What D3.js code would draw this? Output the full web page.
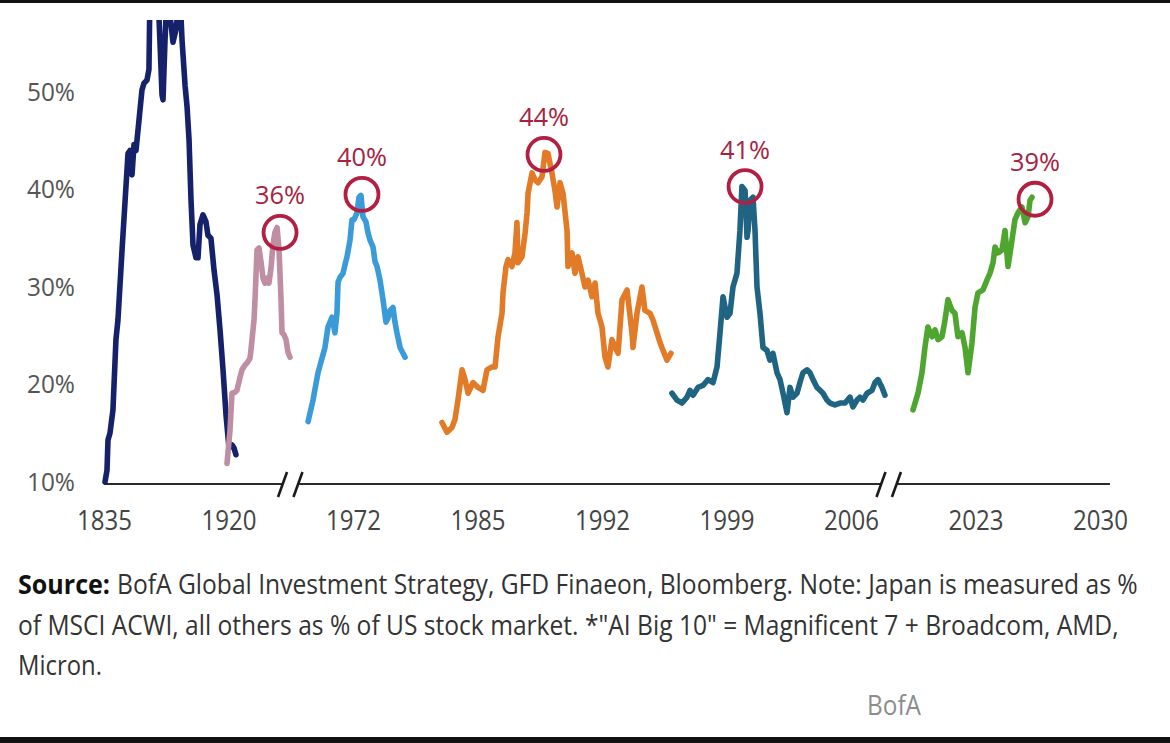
<!DOCTYPE html>
<html>
<head>
<meta charset="utf-8">
<script src="https://cdn.jsdelivr.net/npm/d3@7"></script>
<style>
  html, body { margin: 0; padding: 0; background: #fff; }
  svg { display: block; }
</style>
</head>
<body>
<svg id="chart" width="1170" height="743"></svg>
<script>
// ---------- DATA ----------
// x positions are in "tick units x10" (0 = first tick label, 80 = last tick label)
const xTickLabels = ["1835", "1920", "1972", "1985", "1992", "1999", "2006", "2023", "2030"];
const yTickValues = [10, 20, 30, 40, 50];
const axisBreaks = [14.96, 63.03];
const axisEnd = 80.8;

const ukRailways = [[0.08,10],[0.24,11.2],[0.32,14.3],[0.48,15.0],[0.72,17.4],[0.96,24.6],[1.12,26.6],[1.45,33.8],[1.93,43.7],[2.09,44.0],[2.25,41.5],[2.41,44.6],[2.57,44.0],[3.05,50.2],[3.21,50.9],[3.45,51.2],[3.61,52.3],[3.69,60],[4.34,60],[4.5,55],[4.66,49.7],[4.74,49.2],[4.9,55.3],[5.06,60],[5.38,57],[5.54,55.1],[5.78,56.4],[6.1,60],[6.27,55.3],[6.51,50.7],[6.67,48.5],[6.83,45.1],[6.99,38.9],[7.15,34.3],[7.39,33.0],[7.55,33.0],[7.71,36.4],[7.95,37.4],[8.19,36.7],[8.35,35.3],[8.59,35.0],[8.84,31.7],[9.08,29.2],[9.32,25.6],[9.56,21.5],[9.8,16.9],[10.04,13.5],[10.28,13.8],[10.44,13.5],[10.6,12.8]];

const us1929 = [[9.88,11.9],[10.12,15.3],[10.28,19.1],[10.52,19.2],[10.68,19.4],[10.92,20.7],[11.08,21.5],[11.33,22.0],[11.49,22.2],[11.73,22.7],[11.89,24.6],[12.05,26.6],[12.13,28.7],[12.29,33.8],[12.45,34.0],[12.61,32.6],[12.77,30.9],[12.93,30.4],[13.09,30.9],[13.25,30.4],[13.41,31.9],[13.57,34.3],[13.73,35.6],[13.9,36.1],[14.06,33.8],[14.22,28.7],[14.3,25.3],[14.46,25.1],[14.62,24.6],[14.78,23.3],[14.94,22.8]];

const niftyFifty = [[16.39,16.2],[16.79,18.4],[17.19,21.2],[17.51,22.7],[17.75,23.8],[17.99,25.9],[18.31,26.9],[18.55,25.3],[18.71,27.3],[18.8,30.5],[18.96,31.0],[19.2,31.4],[19.36,32.3],[19.52,33.1],[19.76,34.8],[19.92,36.9],[20.08,36.9],[20.32,37.6],[20.48,39.2],[20.64,39.4],[20.8,37.2],[21.04,36.7],[21.2,35.6],[21.37,34.8],[21.61,34.1],[21.77,32.6],[21.93,32.1],[22.17,30.7],[22.41,28.7],[22.65,26.4],[22.81,26.8],[22.97,27.6],[23.21,27.9],[23.37,26.4],[23.53,25.3],[23.78,23.8],[24.18,22.8]];

const japan = [[27.15,16.1],[27.55,15.1],[27.95,15.6],[28.19,16.4],[28.43,18.4],[28.76,21.5],[29.0,20.5],[29.24,19.1],[29.64,20.2],[30.04,19.7],[30.44,19.4],[30.76,21.5],[31.16,21.8],[31.41,21.8],[31.65,24.9],[31.97,27.3],[32.05,29.4],[32.29,32.1],[32.45,32.8],[32.77,32.1],[33.01,33.5],[33.17,36.6],[33.25,32.5],[33.57,33.1],[33.82,35.5],[33.98,37.6],[34.06,39.6],[34.38,41.7],[34.62,41.0],[34.86,40.7],[35.18,41.3],[35.42,43.8],[35.66,43.7],[35.98,41.7],[36.22,39.9],[36.39,38.2],[36.63,40.7],[36.87,39.6],[37.19,35.8],[37.27,32.1],[37.59,33.5],[37.83,31.4],[38.07,33.1],[38.39,31.4],[38.63,30.0],[38.88,30.7],[39.2,29.0],[39.44,30.4],[39.68,27.3],[40.0,25.9],[40.24,22.8],[40.48,21.8],[40.8,24.6],[41.04,23.8],[41.29,23.2],[41.61,28.7],[42.01,29.7],[42.41,25.3],[42.49,23.8],[42.81,27.3],[43.21,30.0],[43.45,27.6],[43.86,27.3],[44.1,26.6],[44.42,25.3],[44.66,24.3],[44.9,23.5],[45.22,22.5],[45.54,23.2]];

const tmt = [[45.62,19.1],[46.02,18.4],[46.43,18.1],[46.83,18.7],[47.07,19.4],[47.31,18.9],[47.71,19.7],[48.11,19.9],[48.51,20.5],[48.92,20.2],[49.24,21.8],[49.48,25.3],[49.72,29.0],[50.04,26.9],[50.28,27.3],[50.52,30.0],[50.84,31.4],[51.08,35.8],[51.24,40.3],[51.49,39.9],[51.65,35.1],[51.73,35.8],[51.89,38.9],[52.13,39.2],[52.29,35.8],[52.45,30.0],[52.69,27.3],[52.93,23.8],[53.25,23.5],[53.49,22.5],[53.73,23.2],[54.06,21.2],[54.3,20.5],[54.54,19.1],[54.86,17.1],[55.1,19.7],[55.34,18.7],[55.66,19.1],[55.9,20.2],[56.14,21.2],[56.47,21.5],[56.71,21.2],[56.95,20.5],[57.27,19.7],[57.51,19.4],[57.75,19.1],[58.07,18.4],[58.31,18.1],[58.71,17.9],[59.12,18.1],[59.52,18.1],[59.92,18.7],[60.16,17.7],[60.48,18.4],[60.72,18.7],[60.96,18.4],[61.29,19.1],[61.69,19.4],[61.93,20.2],[62.17,20.5],[62.49,19.7],[62.73,18.9]];

const aiBig10 = [[64.98,17.4],[65.38,19.1],[65.7,21.2],[65.94,23.8],[66.18,25.9],[66.51,24.9],[66.75,25.6],[66.99,24.6],[67.31,24.9],[67.55,26.6],[67.79,28.7],[68.11,27.6],[68.35,27.3],[68.59,24.9],[68.92,25.3],[69.16,23.8],[69.4,21.2],[69.72,24.3],[69.96,27.9],[70.2,29.4],[70.6,29.7],[70.92,30.7],[71.16,31.4],[71.41,32.5],[71.57,34.1],[71.81,33.5],[72.13,33.8],[72.37,35.8],[72.61,32.1],[72.93,34.8],[73.17,36.9],[73.41,37.6],[73.73,38.2],[73.98,36.6],[74.22,37.2],[74.38,38.9],[74.54,39.2]];

const seriesNames = ["ukRailways", "us1929", "niftyFifty", "japan", "tmt", "aiBig10"];
const seriesData = [ukRailways, us1929, niftyFifty, japan, tmt, aiBig10];
const seriesColors = ["#15226b", "#c08ea3", "#3b9bd8", "#e27b27", "#1f6483", "#4ea52f"];

const peakX = [14.14, 20.72, 35.34, 51.49, 74.78];
const peakV = [35.6, 39.5, 43.6, 40.3, 39.0];
const peakLabels = ["36%", "40%", "44%", "41%", "39%"];

const noteLines = [
  "BofA Global Investment Strategy, GFD Finaeon, Bloomberg. Note: Japan is measured as %",
  "of MSCI ACWI, all others as % of US stock market. *\"AI Big 10\" = Magnificent 7 + Broadcom, AMD,",
  "Micron."
];

// ---------- DRAW ----------
const svg = d3.select("#chart");
const font = "'Open Sans', 'Noto Sans', sans-serif";

svg.append("rect").attr("x", 0).attr("y", 0).attr("width", 1170).attr("height", 743).attr("fill", "#fff");
svg.append("rect").attr("x", 0).attr("y", 0).attr("width", 1170).attr("height", 3).attr("fill", "#111");
svg.append("rect").attr("x", 0).attr("y", 737).attr("width", 1170).attr("height", 6).attr("fill", "#111");

const x = d3.scaleLinear().domain([0, 80]).range([104, 1100]);
const y = d3.scaleLinear().domain([10, 50]).range([482, 92]);

// clip
svg.append("defs").append("clipPath").attr("id", "plotclip")
  .append("rect").attr("x", 0).attr("y", 20).attr("width", 1170).attr("height", 500);

// helper: horizontally squeeze a text to a target width
function squeeze(sel, x0, y0, w) {
  sel.attr("x", 0).attr("y", 0);
  const len = sel.node().getComputedTextLength();
  sel.attr("transform", `translate(${x0},${y0}) scale(${w / len},1)`);
}

// y axis
const yAxis = svg.append("g").attr("transform", "translate(75,0)")
  .call(d3.axisLeft(y).tickValues(yTickValues).tickSize(0).tickPadding(0).tickFormat(d => d + "%"));
yAxis.select(".domain").remove();
yAxis.selectAll("text")
  .attr("font-family", font).attr("font-size", 25).attr("fill", "#555")
  .attr("textLength", 48).attr("lengthAdjust", "spacingAndGlyphs");

// x axis labels
const xAxis = svg.append("g").attr("transform", "translate(0,484)")
  .call(d3.axisBottom(x).tickValues(d3.range(0, 81, 10)).tickSize(0).tickPadding(27)
    .tickFormat((d, i) => xTickLabels[i]));
xAxis.select(".domain").remove();
xAxis.selectAll("text")
  .attr("font-family", font).attr("font-size", 27).attr("fill", "#444")
  .attr("textLength", 55).attr("lengthAdjust", "spacingAndGlyphs");

// x axis baseline with breaks
const gap = 0.62;
const segs = [[0, axisBreaks[0] - gap], [axisBreaks[0] + gap, axisBreaks[1] - gap], [axisBreaks[1] + gap, axisEnd]];
svg.append("g").selectAll("line").data(segs).join("line")
  .attr("x1", d => x(d[0])).attr("x2", d => x(d[1]))
  .attr("y1", 484).attr("y2", 484)
  .attr("stroke", "#2a2a2a").attr("stroke-width", 2.2);
const slashes = [];
axisBreaks.forEach(b => { slashes.push(b - gap); slashes.push(b + gap); });
svg.append("g").selectAll("line").data(slashes).join("line")
  .attr("x1", d => x(d) - 4.5).attr("x2", d => x(d) + 4.5)
  .attr("y1", 497).attr("y2", 472)
  .attr("stroke", "#1a1a1a").attr("stroke-width", 2.6);

// series lines
const line = d3.line().x(d => x(d[0])).y(d => y(d[1])).curve(d3.curveLinear);
const plot = svg.append("g").attr("clip-path", "url(#plotclip)");
plot.selectAll("path").data(seriesData).join("path")
  .attr("class", (d, i) => seriesNames[i])
  .attr("d", line)
  .attr("fill", "none")
  .attr("stroke", (d, i) => seriesColors[i])
  .attr("stroke-width", 5.6)
  .attr("stroke-linejoin", "round")
  .attr("stroke-linecap", "round");

// peak circles and labels
const peaks = svg.append("g");
peaks.selectAll("circle").data(peakX).join("circle")
  .attr("cx", d => x(d)).attr("cy", (d, i) => y(peakV[i]))
  .attr("r", 16.5)
  .attr("fill", "none").attr("stroke", "#b21f40").attr("stroke-width", 3.8);
peaks.selectAll("text").data(peakX).join("text")
  .attr("x", d => x(d)).attr("y", (d, i) => y(peakV[i]) - 28)
  .attr("text-anchor", "middle")
  .attr("font-family", font).attr("font-size", 25).attr("fill", "#a5233f")
  .attr("textLength", 50).attr("lengthAdjust", "spacingAndGlyphs")
  .text((d, i) => peakLabels[i]);

// footnote
const note = svg.append("g").attr("font-family", font).attr("font-size", 27);
note.append("text")
  .attr("font-weight", 700).attr("fill", "#111")
  .text("Source:")
  .call(s => squeeze(s, 18, 594, 92));
const noteStarts = [117, 18, 18];
const noteWidths = [1021, 1101, 84];
const noteBase = [594, 635, 675];
note.selectAll("text.line").data(noteLines).join("text")
  .attr("class", "line")
  .attr("fill", "#333")
  .text(d => d)
  .each(function (d, i) { squeeze(d3.select(this), noteStarts[i], noteBase[i], noteWidths[i]); });

// BofA mark
svg.append("text")
  .attr("font-family", font).attr("font-size", 27).attr("fill", "#8c8c8c")
  .text("BofA")
  .call(s => squeeze(s, 867, 715, 54));
</script>
</body>
</html>
